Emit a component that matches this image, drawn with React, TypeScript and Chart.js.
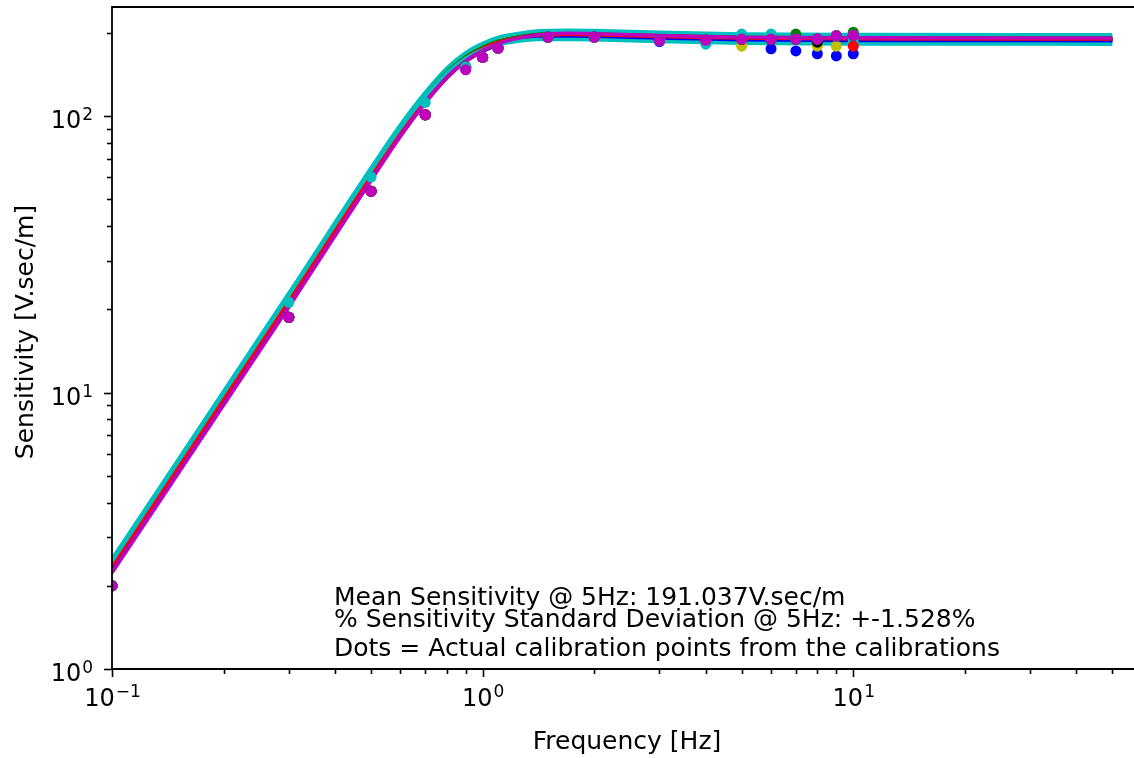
import React, { useEffect, useRef } from "react";
import { Chart, registerables } from "chart.js";
Chart.register(...registerables);

// ---- data ----
const lineFreqs = [0.1, 0.3, 0.5, 0.6, 0.7, 0.8, 0.9, 1.0, 1.1, 1.2, 1.4, 1.7, 2, 3, 5, 10, 50];
const curveB1 = [2.30, 21.0, 60.0, 86.1, 113.3, 139.0, 158.8, 172.3, 181.8, 187.3, 193.6, 195.5, 194.9, 192.1, 189.5, 188.5, 188.1];
const curveG2 = [2.39, 21.8, 62.3, 89.3, 117.1, 143.5, 163.5, 177.2, 186.5, 191.8, 197.9, 199.4, 199.0, 195.9, 193.3, 192.3, 191.9];
const curveR3 = [2.34, 21.4, 61.0, 87.6, 115.0, 141.0, 160.8, 174.2, 183.5, 188.7, 194.8, 196.4, 195.9, 193.0, 190.4, 189.4, 189.1];
const curveC4 = [2.50, 22.9, 65.0, 93.0, 121.8, 149.0, 169.5, 183.2, 192.4, 197.4, 203.2, 204.3, 203.8, 200.8, 198.1, 197.1, 196.7];
const curveM5 = [2.23, 20.4, 58.5, 84.3, 111.3, 137.1, 157.3, 171.3, 181.5, 187.6, 194.7, 197.4, 197.0, 194.0, 191.4, 190.4, 190.0];
const curveY6 = [2.36, 21.6, 61.5, 88.1, 115.4, 141.2, 160.8, 173.9, 182.8, 187.6, 193.3, 194.5, 194.0, 191.1, 188.5, 187.5, 187.2];
const curveK7 = [2.27, 20.8, 59.5, 85.6, 112.7, 138.5, 158.5, 172.2, 181.9, 187.6, 194.2, 196.4, 195.9, 193.0, 190.4, 189.4, 189.1];
const curveB8 = [2.32, 21.2, 60.4, 86.7, 113.7, 139.3, 158.8, 172.0, 181.1, 186.1, 192.0, 193.5, 193.0, 190.1, 187.6, 186.6, 186.2];
const curveG9 = [2.41, 22.0, 62.8, 89.8, 117.7, 144.0, 163.9, 177.3, 186.4, 191.4, 197.2, 198.4, 198.0, 195.0, 192.4, 191.4, 191.0];
const curveR10 = [2.36, 21.6, 61.6, 88.4, 115.9, 142.1, 161.9, 175.5, 184.7, 189.8, 196.0, 197.4, 197.0, 194.0, 191.4, 190.4, 190.0];
const curveC11 = [2.45, 22.5, 63.5, 90.4, 117.7, 143.1, 161.8, 173.9, 181.6, 185.0, 189.3, 189.1, 188.7, 185.9, 183.4, 182.4, 182.0];
const curveM12 = [2.24, 20.5, 58.8, 84.8, 111.9, 138.0, 158.3, 172.6, 182.7, 189.0, 196.3, 199.1, 198.6, 195.5, 192.9, 191.9, 191.5];

const dotFreqs = [0.1, 0.3, 0.5, 0.7, 0.9, 1.0, 1.1, 1.5, 2, 3, 4, 5, 6, 7, 8, 9, 10];
const dotsB1 = [2.0, 18.7, 53.5, 101, 148, 163, 176, 193, 193, 186, 188, 190, 175, 172, 168, 165, 168];
const dotsG2 = [2.0, 18.7, 53.5, 101, 150.6, 163, 176, 193, 193, 188, 188, 190, 190, 190, 190, 195, 196];
const dotsR3 = [2.0, 18.7, 53.5, 101, 150.6, 163, 176, 193, 193, 188, 188, 190, 190, 190, 190, 195, 196];
const dotsC4 = [2.0, 18.7, 53.5, 101, 150.6, 163, 176, 193, 193, 188, 188, 190, 190, 190, 190, 195, 187];
const dotsM5 = [2.0, 18.7, 53.5, 101, 150.6, 163, 176, 193, 193, 188, 188, 190, 190, 190, 190, 195, 196];
const dotsY6 = [2.0, 18.7, 53.5, 101, 150.6, 163, 176, 193, 193, 188, 188, 179, 190, 190, 179, 179, 196];
const dotsK7 = [2.0, 18.7, 53.5, 101, 150.6, 163, 176, 193, 193, 188, 188, 190, 190, 190, 185, 195, 196];
const dotsB8 = [2.0, 18.7, 53.5, 101, 150.6, 163, 176, 193, 193, 188, 188, 190, 190, 190, 190, 195, 196];
const dotsG9 = [2.0, 18.7, 53.5, 101, 150.6, 163, 176, 193, 193, 188, 188, 190, 190, 198, 190, 195, 201];
const dotsR10 = [2.0, 18.7, 53.5, 101, 150.6, 163, 176, 193, 193, 188, 188, 190, 190, 190, 190, 195, 179];
const dotsC11 = [2.0, 21.2, 60.2, 112, 150.6, 163, 176, 193, 193, 188, 182, 198, 198, 190, 190, 195, 196];
const dotsM12 = [2.0, 18.7, 53.5, 101, 147, 163, 176, 193, 193, 188, 188, 190, 190, 190, 190, 195, 196];

const seriesColors = ["#0000ff", "#008000", "#ff0000", "#00bfbf", "#bf00bf", "#bfbf00", "#000000", "#0000ff", "#008000", "#ff0000", "#00bfbf", "#bf00bf"];
const curves = [curveB1, curveG2, curveR3, curveC4, curveM5, curveY6, curveK7, curveB8, curveG9, curveR10, curveC11, curveM12];
const dots = [dotsB1, dotsG2, dotsR3, dotsC4, dotsM5, dotsY6, dotsK7, dotsB8, dotsG9, dotsR10, dotsC11, dotsM12];

const xTickValues = [0.1, 1, 10];
const xTickExps = ["\u22121", "0", "1"];
const yTickValues = [1, 10, 100];
const yTickExps = ["0", "1", "2"];
const xTitle = "Frequency [Hz]";
const yTitle = "Sensitivity [V.sec/m]";
const notes = [
  "Mean Sensitivity @ 5Hz: 191.037V.sec/m",
  "% Sensitivity Standard Deviation @ 5Hz: +-1.528%",
  "Dots = Actual calibration points from the calibrations",
];

const FONT = '"DejaVu Sans", sans-serif';
const CANVAS_W = 1180;
const CANVAS_H = 758;

const decorPlugin = {
  id: "mplDecor",
  afterDraw(chart: any) {
    const { ctx, chartArea: a } = chart;
    const xs = chart.scales.x;
    const ys = chart.scales.y;
    ctx.save();
    ctx.strokeStyle = "#000";
    ctx.lineWidth = 1.8;
    ctx.beginPath();
    ctx.moveTo(a.left, a.top);
    ctx.lineTo(a.right, a.top);
    ctx.lineTo(a.right, a.bottom);
    ctx.lineTo(a.left, a.bottom);
    ctx.closePath();
    ctx.stroke();

    ctx.lineWidth = 1.6;
    for (let e = -1; e <= 1; e++) {
      for (let k = 1; k <= 9; k++) {
        const v = k * Math.pow(10, e);
        if (v < xs.min - 1e-9 || v > xs.max) continue;
        const px = Math.round(xs.getPixelForValue(v)) + 0.5;
        const len = k === 1 ? 8 : 5;
        ctx.beginPath();
        ctx.moveTo(px, a.bottom);
        ctx.lineTo(px, a.bottom + len);
        ctx.stroke();
      }
    }
    for (let e = 0; e <= 2; e++) {
      for (let k = 1; k <= 9; k++) {
        const v = k * Math.pow(10, e);
        if (v < ys.min - 1e-9 || v > ys.max) continue;
        const py = Math.round(ys.getPixelForValue(v)) + 0.5;
        const len = k === 1 ? 8 : 5;
        ctx.beginPath();
        ctx.moveTo(a.left, py);
        ctx.lineTo(a.left - len, py);
        ctx.stroke();
      }
    }

    ctx.fillStyle = "#000";
    const baseFont = `24px ${FONT}`;
    const supFont = `17px ${FONT}`;
    const textFont = `25px ${FONT}`;
    ctx.textBaseline = "alphabetic";
    ctx.textAlign = "left";
    xTickValues.forEach((v, i) => {
      const px = xs.getPixelForValue(v);
      ctx.font = baseFont;
      const wb = ctx.measureText("10").width;
      ctx.font = supFont;
      const ws = ctx.measureText(xTickExps[i]).width;
      const x0 = px - (wb + ws) / 2;
      ctx.font = baseFont;
      ctx.fillText("10", x0, 706);
      ctx.font = supFont;
      ctx.fillText(xTickExps[i], x0 + wb + 1, 697);
    });
    yTickValues.forEach((v, i) => {
      const py = ys.getPixelForValue(v);
      ctx.font = supFont;
      const ws = ctx.measureText(yTickExps[i]).width;
      ctx.font = baseFont;
      const wb = ctx.measureText("10").width;
      const right = 93;
      const x0 = right - ws - wb - 1;
      ctx.fillText("10", x0, py + 12);
      ctx.font = supFont;
      ctx.fillText(yTickExps[i], x0 + wb + 1, py + 4);
    });

    ctx.font = textFont;
    ctx.textAlign = "center";
    ctx.fillText(xTitle, 627, 749);
    ctx.save();
    ctx.translate(33, 332);
    ctx.rotate(-Math.PI / 2);
    ctx.fillText(yTitle, 0, 0);
    ctx.restore();

    ctx.textAlign = "left";
    ctx.font = textFont;
    const noteBaselines = [605, 627, 656];
    notes.forEach((t, i) => ctx.fillText(t, 334, noteBaselines[i]));
    ctx.restore();
  },
};

export default function App() {
  const ref = useRef<HTMLCanvasElement>(null);
  useEffect(() => {
    const n = curves.length;
    const lineSets = curves.map((vals, i) => ({
      label: `curve ${i + 1}`,
      data: lineFreqs.map((f, j) => ({ x: f, y: vals[j] })),
      showLine: true,
      borderColor: seriesColors[i],
      backgroundColor: seriesColors[i],
      borderWidth: 3.5,
      pointRadius: 0,
      cubicInterpolationMode: "monotone" as const,
      order: -i,
    }));
    const dotSets = dots.map((vals, i) => ({
      label: `points ${i + 1}`,
      data: dotFreqs.map((f, j) => ({ x: f, y: vals[j] })),
      showLine: false,
      backgroundColor: seriesColors[i],
      borderColor: seriesColors[i],
      borderWidth: 0,
      pointRadius: 5.5,
      order: -(n + i),
    }));
    const chart = new Chart(ref.current as HTMLCanvasElement, {
      type: "scatter",
      data: { datasets: [...lineSets, ...dotSets] as any },
      options: {
        animation: false,
        responsive: false,
        maintainAspectRatio: false,
        devicePixelRatio: 1,
        layout: { padding: { left: 112, top: 7, right: CANVAS_W - 1163, bottom: CANVAS_H - 669 } },
        plugins: { legend: { display: false }, tooltip: { enabled: false }, title: { display: false } },
        events: [],
        scales: {
          x: { type: "logarithmic", min: 0.1, max: 68.5, display: false },
          y: { type: "logarithmic", min: 1, max: 248, display: false },
        },
      },
      plugins: [decorPlugin],
    });
    return () => chart.destroy();
  }, []);
  return (
    <div style={{ position: "absolute", left: 0, top: 0, width: 1134, height: 758, overflow: "hidden", background: "#fff" }}>
      <canvas ref={ref} width={CANVAS_W} height={CANVAS_H} style={{ display: "block", width: CANVAS_W, height: CANVAS_H }} />
    </div>
  );
}
